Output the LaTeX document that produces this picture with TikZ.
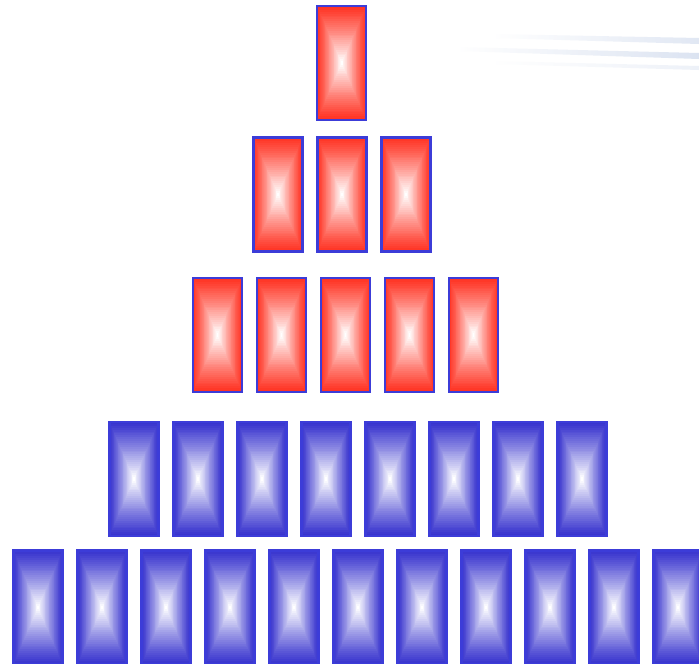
\documentclass[tikz,border=0pt]{standalone}
\usetikzlibrary{fadings}
\definecolor{boxred}{RGB}{255,52,36}
\definecolor{boxblue}{RGB}{56,52,206}
\definecolor{edgeblue}{RGB}{60,60,216}
\definecolor{streak}{RGB}{205,216,236}
\tikzset{
  boxedge/.style={draw=edgeblue, line width=2.4pt},
}
% gradient box: #1 centre x, #2 centre y, #3 colour
\newcommand\gradbox[3]{%
  \foreach \i in {0,...,29}{%
    \pgfmathsetmacro\s{1-\i/30}%
    \pgfmathtruncatemacro\p{100*(\i/29)^1.1}%
    \fill[white!\p!#3] ({#1-24.5*\s},{#2-57*\s}) rectangle ({#1+24.5*\s},{#2+57*\s});
  }%
  \draw[boxedge] ({#1-24.5},{#2-57}) rectangle ({#1+24.5},{#2+57});
}
\begin{document}
\begin{tikzpicture}[x=1pt,y=-1pt]
\useasboundingbox (0,0) rectangle (699,664);
\fill[white] (0,0) rectangle (699,664);
% faint streaks top right
\shade[left color=white, right color=streak, opacity=0.6] (493,34) -- (699,38) -- (699,44) -- (493,38) -- cycle;
\shade[left color=white, right color=streak, opacity=0.7] (457,47) -- (699,53) -- (699,59) -- (457,51) -- cycle;
\shade[left color=white, right color=streak, opacity=0.35] (493,61) -- (699,66) -- (699,70) -- (493,64) -- cycle;
% row 1
\gradbox{341.7}{63}{boxred}
% row 2
\foreach \k in {0,1,2}{\gradbox{278+64*\k}{194.5}{boxred}}
% row 3
\foreach \k in {0,...,4}{\gradbox{217.5+64*\k}{335}{boxred}}
% row 4
\foreach \k in {0,...,7}{\gradbox{134+64*\k}{479}{boxblue}}
% row 5
\foreach \k in {0,...,10}{\gradbox{38+64*\k}{607.5}{boxblue}}
\end{tikzpicture}
\end{document}
